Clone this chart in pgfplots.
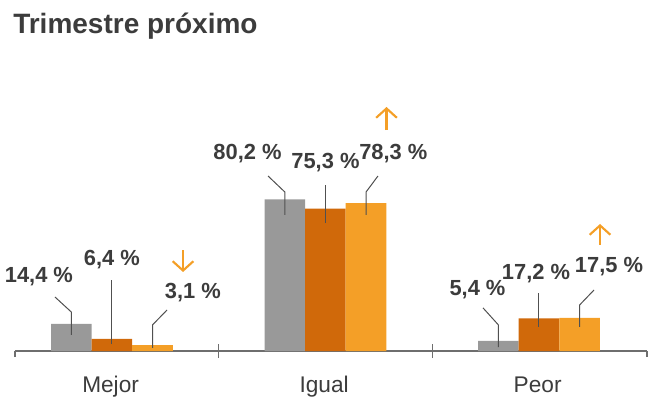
\documentclass[border=0pt]{standalone}
\usepackage{fontspec}
\setmainfont{Liberation Sans}
\usepackage{pgfplots}
\pgfplotsset{compat=1.18}
\usetikzlibrary{arrows.meta}
\definecolor{cgray}{HTML}{999999}
\definecolor{cdark}{HTML}{D0690A}
\definecolor{corange}{HTML}{F49F27}
\definecolor{ctext}{HTML}{3C3C3C}
\definecolor{caxis}{HTML}{6E6E6E}
\definecolor{cline}{HTML}{505050}
\tikzset{
 lbl/.style={anchor=base, inner sep=0, text=ctext, font=\fontsize{16.4pt}{19pt}\selectfont\bfseries},
 ldr/.style={draw=cline, line width=0.75pt},
 arr/.style={draw=corange, line width=1.6pt, -{Straight Barb[length=7pt, width=15.5pt]}},
}
\begin{document}
\begin{tikzpicture}
\path[use as bounding box] (0,0) rectangle (486.75pt,297pt);
\node[anchor=base west, inner sep=0, text=ctext, font=\fontsize{21pt}{24pt}\selectfont\bfseries] at (9.75pt,272pt) {Trimestre próximo};
\begin{axis}[
 at={(11.25pt,33.75pt)}, anchor=south west, scale only axis,
 width=474pt, height=198.45pt,
 xmin=-0.454, xmax=2.506, ymin=0, ymax=140,
 clip=false,
 axis x line=bottom, axis y line=none,
 x axis line style={-, draw=caxis, line width=1.1pt},
 ytick=\empty,
 xtick={0,1,2}, xticklabels={Mejor,Igual,Peor},
 major tick length=0pt,
 every tick/.style={draw=caxis, line width=0.9pt},
 xticklabel style={anchor=base, yshift=-30.75pt, xshift=-1pt, text=ctext, font=\fontsize{17pt}{20pt}\selectfont},
 extra x ticks={0.5,1.5}, extra x tick labels={},
 extra x tick style={major tick length=10.5pt, tick align=center},
 minor xtick={-0.454,2.506}, minor tick length=4.5pt, tick align=center,
 ybar, bar width=0.19,
]
\addplot[fill=cgray, draw=none, bar shift=-0.19] coordinates {(0,14.4) (1,80.2) (2,5.4)};
\addplot[fill=cdark, draw=none, bar shift=0] coordinates {(0,6.4) (1,75.3) (2,17.2)};
\addplot[fill=corange, draw=none, bar shift=0.19] coordinates {(0,3.1) (1,78.3) (2,17.5)};
% Mejor
\draw[ldr] (axis cs:-0.19,8.5) -- (axis cs:-0.19,20.6) -- (axis cs:-0.267,28.6);
\node[lbl] at (axis cs:-0.342,36.0) {14,4~\%};
\draw[ldr] (axis cs:0,3.7) -- (axis cs:0,37.6);
\node[lbl] at (axis cs:0,45.0) {6,4~\%};
\draw[ldr] (axis cs:0.19,1.6) -- (axis cs:0.19,13.8) -- (axis cs:0.258,21.7);
\node[lbl] at (axis cs:0.379,28.0) {3,1~\%};
\draw[arr] (axis cs:0.333,53.4) -- (axis cs:0.333,41.8);
% Igual
\draw[ldr] (axis cs:0.81,72.0) -- (axis cs:0.81,84.1) -- (axis cs:0.731,92.6);
\node[lbl] at (axis cs:0.635,101.1) {80,2~\%};
\draw[ldr] (axis cs:1,67.7) -- (axis cs:1,87.8);
\node[lbl] at (axis cs:1,96.8) {75,3~\%};
\draw[ldr] (axis cs:1.19,72.0) -- (axis cs:1.19,84.1) -- (axis cs:1.246,92.6);
\node[lbl] at (axis cs:1.318,101.1) {78,3~\%};
\draw[arr] (axis cs:1.286,116.9) -- (axis cs:1.286,129.1);
% Peor
\draw[ldr] (axis cs:1.81,2.1) -- (axis cs:1.81,13.8) -- (axis cs:1.738,22.8);
\node[lbl] at (axis cs:1.712,29.6) {5,4~\%};
\draw[ldr] (axis cs:2,12.7) -- (axis cs:2,30.7);
\node[lbl] at (axis cs:1.986,37.6) {17,2~\%};
\draw[ldr] (axis cs:2.19,12.7) -- (axis cs:2.19,24.3) -- (axis cs:2.258,32.3);
\node[lbl] at (axis cs:2.328,41.3) {17,5~\%};
\draw[arr] (axis cs:2.286,56.1) -- (axis cs:2.286,67.2);
\end{axis}
\end{tikzpicture}
\end{document}
